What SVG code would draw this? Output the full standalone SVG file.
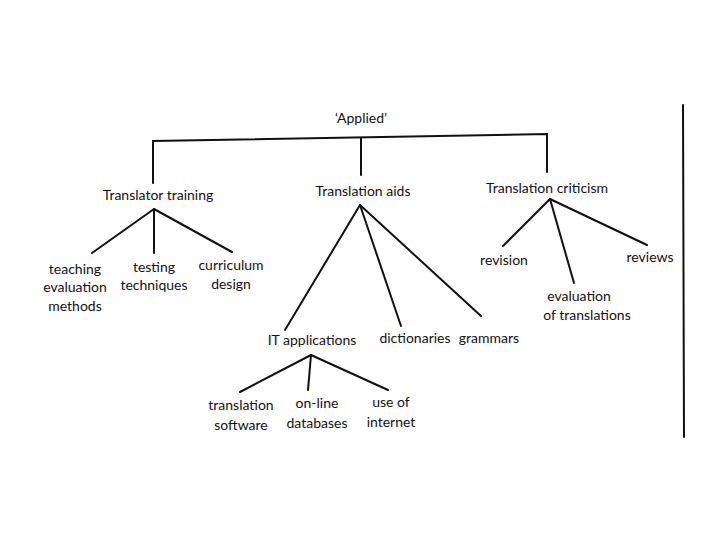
<svg xmlns="http://www.w3.org/2000/svg" width="720" height="540" viewBox="0 0 720 540">
<style>
text{font-family:Lato,"Open Sans","Liberation Sans",sans-serif;font-size:14px;fill:#111;text-anchor:middle}
.c line,.c polyline{stroke:#111;stroke-width:2;fill:none;stroke-linecap:round}
</style>
<rect width="720" height="540" fill="#fff"/>
<g class="c" id="connectors">
<polyline points="153,183 153,141 547,134 547,172"/>
<line x1="361" y1="138" x2="361" y2="175"/>
<line x1="154" y1="209" x2="92" y2="253"/>
<line x1="154" y1="209" x2="154" y2="253"/>
<line x1="154" y1="209" x2="232" y2="252"/>
<line x1="360" y1="205" x2="285" y2="330"/>
<line x1="360" y1="205" x2="401" y2="326"/>
<line x1="360" y1="205" x2="481" y2="316"/>
<line x1="311" y1="355" x2="240" y2="392"/>
<line x1="311" y1="355" x2="308" y2="390"/>
<line x1="311" y1="355" x2="388" y2="390"/>
<line x1="550" y1="199" x2="503" y2="246"/>
<line x1="550" y1="199" x2="574" y2="283"/>
<line x1="550" y1="199" x2="647" y2="245"/>
<line x1="683" y1="105" x2="684" y2="437"/>
</g>
<g id="applied"><text x="361" y="123">‘Applied’</text></g>
<g id="training"><text x="158" y="200">Translator training</text></g>
<g id="aids"><text x="363" y="196">Translation aids</text></g>
<g id="criticism"><text x="547" y="193">Translation criticism</text></g>
<g id="teaching"><text x="75" y="274">teaching</text><text x="75" y="292">evaluation</text><text x="75" y="311">methods</text></g>
<g id="testing"><text x="154" y="272">testing</text><text x="154" y="290">techniques</text></g>
<g id="curriculum"><text x="231" y="270">curriculum</text><text x="231" y="289">design</text></g>
<g id="it"><text x="312" y="345">IT applications</text></g>
<g id="dictionaries"><text x="415" y="343">dictionaries</text></g>
<g id="grammars"><text x="489" y="343">grammars</text></g>
<g id="software"><text x="241" y="410">translation</text><text x="241" y="430">software</text></g>
<g id="online"><text x="317" y="408">on-line</text><text x="317" y="428">databases</text></g>
<g id="internet"><text x="391" y="407">use of</text><text x="391" y="427">internet</text></g>
<g id="revision"><text x="504" y="265">revision</text></g>
<g id="reviews"><text x="650" y="262">reviews</text></g>
<g id="evaluation"><text x="579" y="301">evaluation</text><text x="587" y="320">of translations</text></g>
</svg>
